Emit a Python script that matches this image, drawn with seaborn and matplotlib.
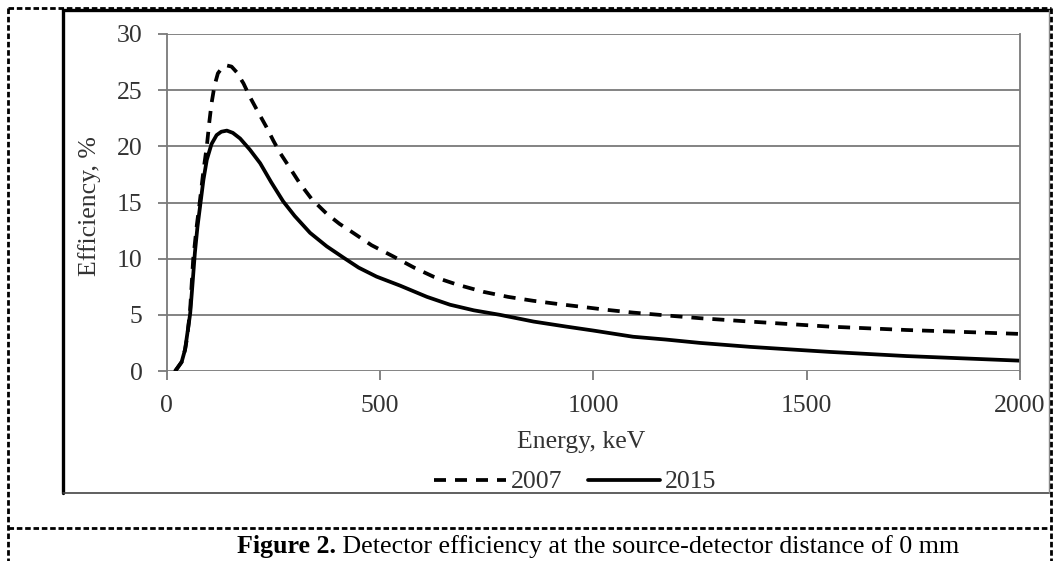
import numpy as np
import pandas as pd
import seaborn as sns
from matplotlib import pyplot as plt
from matplotlib.lines import Line2D


# values (energy in keV, efficiency in %)
energy_2007 = [20, 35, 43, 48, 55, 62, 70, 78, 86, 94, 100, 105, 112, 120, 130, 141, 152,
               164, 180, 195, 215, 234, 250, 266, 290, 312, 340, 375, 405, 437, 480, 531,
               580, 625, 680, 742, 800, 859, 920, 976, 1030, 1093, 1170, 1250, 1367, 1450,
               1554, 1734, 1850, 2000]
eff_2007 = [0, 0.8, 1.9, 3.0, 5.5, 9.9, 12.8, 15.2, 17.8, 20.0, 22.2, 23.8, 25.4, 26.5,
            27.0, 27.2, 27.1, 26.6, 25.6, 24.4, 23.0, 21.7, 20.5, 19.4, 18.0, 16.7, 15.3,
            14.0, 13.1, 12.3, 11.2, 10.2, 9.2, 8.4, 7.7, 7.05, 6.6, 6.25, 5.95, 5.7, 5.45,
            5.2, 4.95, 4.7, 4.4, 4.2, 3.95, 3.65, 3.5, 3.3]

energy_2015 = [20, 35, 43, 55, 60, 66, 72, 78, 86, 94, 105, 117, 128, 141, 155, 172, 195,
               219, 245, 273, 300, 336, 375, 414, 450, 492, 547, 610, 664, 720, 781, 860,
               937, 1000, 1093, 1170, 1250, 1367, 1450, 1554, 1734, 1850, 2000]
eff_2015 = [0, 0.8, 1.9, 5.1, 7.5, 10.5, 12.8, 14.6, 17.0, 18.8, 20.2, 21.0, 21.3, 21.4,
            21.2, 20.7, 19.7, 18.5, 16.8, 15.1, 13.8, 12.3, 11.1, 10.1, 9.2, 8.4, 7.6,
            6.6, 5.9, 5.4, 5.0, 4.4, 3.95, 3.6, 3.05, 2.8, 2.5, 2.15, 1.95, 1.7, 1.33,
            1.15, 0.92]

x_ticks = [0, 500, 1000, 1500, 2000]
y_ticks = [0, 5, 10, 15, 20, 25, 30]

W, H = 1053, 561


def px(x, y):
    # pixel position -> figure fraction
    return x / W, 1 - y / H


sns.set_style("white")
plt.rcParams["font.family"] = ["Liberation Serif", "DejaVu Serif"]

fig = plt.figure(figsize=(W / 100, H / 100), dpi=100)
ax = fig.add_axes([166.7 / W, 1 - 371 / H, (1020 - 166.7) / W, (371 - 34) / H])

df07 = pd.DataFrame({"x": energy_2007, "y": eff_2007})
df15 = pd.DataFrame({"x": energy_2015, "y": eff_2015})

sns.lineplot(data=df07, x="x", y="y", ax=ax, color="black", linewidth=2.7,
             linestyle=(0, (3.2, 2.4)), label="2007", sort=False)
sns.lineplot(data=df15, x="x", y="y", ax=ax, color="black", linewidth=2.7,
             label="2015", sort=False)

grey = "#7a7a7a"
txt = "#333333"
fs = 18.5
ax.set_xlim(0, 2000)
ax.set_ylim(0, 30)
ax.set_xticks(x_ticks)
ax.set_yticks(y_ticks)
ax.yaxis.grid(True, color=grey, linewidth=1.3)
ax.xaxis.grid(False)
ax.set_axisbelow(True)
for s in ["top", "bottom"]:
    ax.spines[s].set_visible(False)
for s in ["left", "right"]:
    ax.spines[s].set_color(grey)
    ax.spines[s].set_linewidth(1.3)
ax.tick_params(axis="both", direction="out", length=6.5, width=1.3, color=grey,
               labelsize=fs, labelcolor=txt, pad=11)
ax.tick_params(axis="x", bottom=True)
ax.tick_params(axis="y", left=True)

ax.set_xlabel("Energy, keV", fontsize=fs, color=txt, va="center")
ax.xaxis.set_label_coords((581 - 166.7) / 853.3, (371 - 442) / 337)
ax.set_ylabel("Efficiency, %", fontsize=fs, color=txt, va="center")
ax.yaxis.set_label_coords((90 - 166.7) / 853.3, (371 - 206) / 337)

leg = ax.legend(loc="center", bbox_to_anchor=((575 - 166.7) / 853.3, (371 - 482) / 337),
                ncol=2, frameon=False, fontsize=fs, handlelength=2.8,
                handletextpad=0.2, columnspacing=1.0, borderaxespad=0)
for t in leg.get_texts():
    t.set_color(txt)

# chart box
fig.add_artist(Line2D(*zip(px(63, 10), px(63, 493)), color="black", linewidth=2.4))
fig.add_artist(Line2D(*zip(px(63, 10), px(1050, 10)), color="black", linewidth=2.4))
fig.add_artist(Line2D(*zip(px(63, 493), px(1050, 493)), color="#444444", linewidth=1.2))
fig.add_artist(Line2D(*zip(px(1049, 10), px(1049, 493)), color="#888888", linewidth=1.0))

# outer dashed frame and caption divider
dash = (0, (2, 1))
for a, b in [((8, 8), (1051, 8)), ((8, 8), (8, 561)), ((1051, 8), (1051, 561)),
             ((8, 528), (1051, 528))]:
    fig.add_artist(Line2D(*zip(px(*a), px(*b)), color="black", linewidth=2.0, linestyle=dash))

cap1 = fig.text(*px(237, 553), "Figure 2.", fontsize=18.7, fontweight="bold",
                ha="left", va="baseline", color="black")
ax.annotate(" Detector efficiency at the source-detector distance of 0 mm",
            xy=(1, 0), xycoords=cap1, fontsize=18.7, ha="left", va="bottom",
            color="black", annotation_clip=False)

plt.savefig("out.png", dpi=100)
plt.close()
